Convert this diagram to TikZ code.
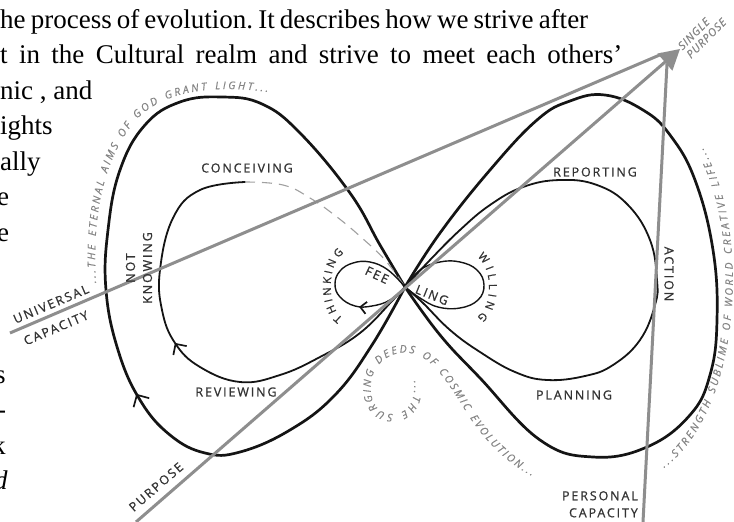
\documentclass[tikz,border=0pt]{standalone}
\usepackage{fontspec}
\setmainfont{Liberation Serif}
\newfontfamily\labelfont{Open Sans}[LetterSpace=15, FakeBold=0.8]
\newfontfamily\plainlabel{Open Sans}[FakeBold=0.8]
\newfontfamily\mottofont{Open Sans}[LetterSpace=8, FakeBold=0.4]
\usetikzlibrary{arrows.meta,decorations.markings,decorations.text}

\definecolor{ink}{HTML}{141414}
\definecolor{labelgray}{HTML}{333333}
\definecolor{vectorgray}{HTML}{8E8E8E}
\definecolor{mottogray}{HTML}{858585}
\definecolor{dashgray}{HTML}{A0A0A0}

\tikzset{
  outerloop/.style={draw=ink, line width=2.7pt, line cap=round, line join=round},
  innerloop/.style={draw=ink, line width=1.8pt, line cap=round, line join=round},
  smallloop/.style={draw=ink, line width=1.4pt, line cap=round, line join=round},
  hintloop/.style={draw=dashgray, line width=1.1pt, dash pattern=on 10pt off 7pt},
  vector/.style={draw=vectorgray, line width=3pt},
  flowmark/.style 2 args={postaction={decorate, decoration={markings,
      mark=at position #1 with {\arrow{Straight Barb[length=#2*0.5,width=#2,line width=1.7pt]}}}}},
  lab/.style={font=\labelfont\fontsize{12.5}{17}\selectfont, text=labelgray, inner sep=0pt},
  curvedlab/.style={decorate, decoration={text along path, text align={fit to path},
      text color=labelgray, text={|\plainlabel\fontsize{11}{11}\selectfont|#1}}},
  motto/.style={decorate, decoration={text along path, text align={fit to path},
      text color=mottogray, text={|\mottofont\itshape\fontsize{10.5}{10.5}\selectfont|#1}}},
  prose/.style={font=\fontsize{27}{30}\selectfont\frenchspacing, anchor=base west, inner sep=0pt, text=black},
}

\begin{document}
\begin{tikzpicture}[x=1pt,y=-1pt]
\path[fill=white, use as bounding box] (0,0) rectangle (734,522);

% running text of the page (justified lines)
\node[prose] (p1) at (0,28) {\makebox[588pt][s]{he process of evolution. It describes how we strive after}};
\node[prose] (p2) at (0,63.5) {\makebox[622pt][s]{t in the Cultural realm and strive to meet each others'}};
\node[prose] (p3) at (0,99) {nic , and};
\node[prose] (p4) at (0,134.5) {ights};
\node[prose] (p5) at (0,170) {ally};
\node[prose] (p6) at (-3,205.5) {e};
\node[prose] (p7) at (-3,241) {e};
\node[prose] (p8) at (-5,383) {s};
\node[prose] (p9) at (-3,418.5) {-};
\node[prose] (p10) at (-8,454) {k};
\node[prose] (p11) at (-6,489.5) {\itshape d};

% outer lemniscate
\draw[outerloop, flowmark={0.365}{18pt}] plot[smooth, tension=0.7] coordinates {
  (405,287) (372,345) (335,395) (290,430) (240,452) (205,453) (170,435) (140,400)
  (118,350) (106,290) (108,230) (120,170) (145,125) (180,102) (222,97) (262,104)
  (300,133) (350,193) (380,245) (405,287)};
\draw[outerloop] plot[smooth, tension=0.7] coordinates {
  (405,287) (440,233) (490,170) (537,120) (570,101) (605,95) (643,110) (670,135)
  (695,180) (713,250) (717,320) (710,375) (690,415) (647,447) (593,457) (540,440)
  (480,378) (440,335) (405,287)};

% middle lemniscate
\draw[innerloop, flowmark={0.56}{16pt}] plot[smooth, tension=0.7] coordinates {
  (405,287) (393,300) (360,333) (320,357) (280,375) (240,382) (200,367) (175,343)
  (162,310) (160,270) (173,218) (200,190) (245,182)};
\draw[hintloop] plot[smooth, tension=0.7] coordinates {
  (245,182) (283,185) (310,198) (337,217) (362,238) (385,260) (405,287)};
\draw[innerloop] plot[smooth, tension=0.7] coordinates {
  (405,287) (423,303) (450,330) (480,352) (515,372) (547,380) (585,376) (613,365)
  (640,340) (655,305) (657,280) (650,240) (628,205) (597,185) (560,180) (523,187)
  (490,205) (460,230) (430,260) (405,287)};

% small lemniscate
\draw[smallloop, flowmark={0.29}{12pt}] plot[smooth, tension=0.7] coordinates {
  (405,287) (390,300) (372,306) (355,306) (340,297) (335,284) (340,271) (353,263)
  (370,262) (388,270) (405,287)};
\draw[smallloop] plot[smooth, tension=0.7] coordinates {
  (405,287) (420,270) (440,262) (460,262) (477,270) (484,285) (478,300) (460,308)
  (438,307) (420,298) (405,287)};

% mottos along the loops
\path[motto={...THE ETERNAL AIMS OF GOD GRANT LIGHT...}]
  (96,283) .. controls (92,220) and (102,160) .. (136,120)
  .. controls (162,92) and (210,84) .. (268,92);
\path[motto={...STRENGTH SUBLIME OF WORLD CREATIVE LIFE...}]
  (664,468) .. controls (742,410) and (752,230) .. (703,148);
\path[motto={...THE SURGING DEEDS OF COSMIC EVOLUTION...}]
  (414,381) .. controls (416,405) and (405,414) .. (392,414)
  .. controls (377,414) and (369,400) .. (371,383)
  .. controls (373,363) and (392,350) .. (410,353)
  .. controls (432,356) and (448,383) .. (465,410)
  .. controls (482,438) and (505,462) .. (532,476);

% capacities converging on one purpose
\coordinate (tip) at (680,49);
\coordinate (univ) at (10,333);
\coordinate (univend) at (662,54);
\coordinate (purp) at (136,522);
\coordinate (pers) at (643,522);
\coordinate (persend) at (667,64);
\draw[vector] (univ) -- (univend);
\draw[vector] (pers) -- (persend);
\draw[vector, -{Triangle[length=20pt,width=22pt]}] (purp) -- (tip);

% stage labels
\node[lab] (conceiving) at (247,168) {CONCEIVING};
\node[lab, rotate=90, align=center] (notknowing) at (139,268) {NOT\\KNOWING};
\node[lab] (reviewing) at (236,392) {REVIEWING};
\node[lab] (reporting) at (595,172) {REPORTING};
\node[lab, rotate=-90] (action) at (669,274) {ACTION};
\node[lab] (planning) at (574,395) {PLANNING};
\node[lab, align=right, anchor=north east] (personal) at (638,491) {PERSONAL\\CAPACITY};
\node[lab, rotate=23] (universal) at (51,304) {UNIVERSAL};
\node[lab, rotate=23] (ucapacity) at (56,328) {CAPACITY};
\node[lab, rotate=41] (purpose) at (156,487) {PURPOSE};
\node[lab, rotate=-25] (fee) at (377,275) {FEE};
\node[lab, rotate=-22] (ling) at (432,295) {LING};
\node[font=\mottofont\itshape\fontsize{11}{12}\selectfont, text=mottogray, rotate=45,
      align=left, inner sep=0pt] (single) at (702,34) {SINGLE\\PURPOSE};

% curved labels round the small loops
\path[curvedlab={THINKING}] (343,318) .. controls (327,308) and (326,265) .. (344,253);
\path[curvedlab={WILLING}] (477,257) .. controls (493,268) and (493,306) .. (477,317);
\end{tikzpicture}
\end{document}
